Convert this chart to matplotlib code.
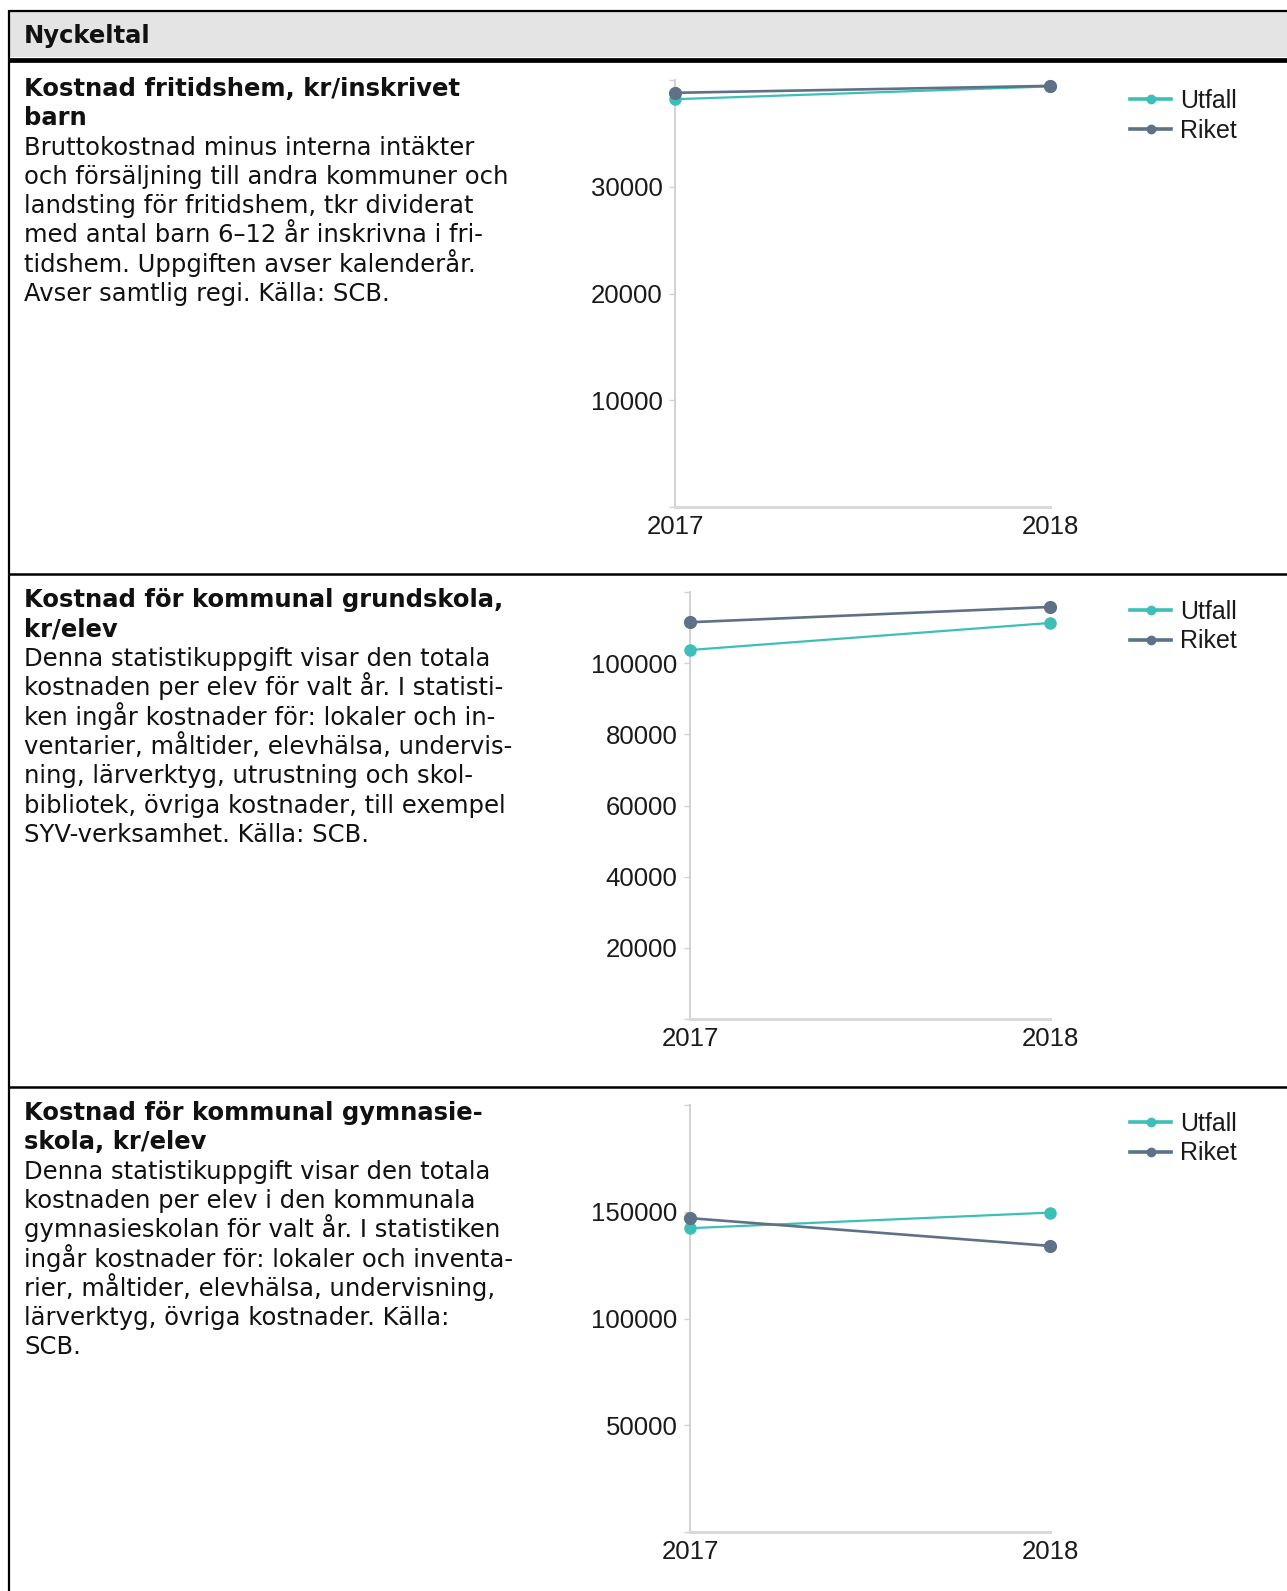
import numpy as np
import matplotlib
matplotlib.use("Agg")
import matplotlib.pyplot as plt
from matplotlib.patches import Rectangle
from matplotlib.lines import Line2D

# data
years = [2017, 2018]
series_names = ["Utfall", "Riket"]

fritids_utfall = [38200, 39400]
fritids_riket = [38800, 39450]
grund_utfall = [103700, 111300]
grund_riket = [111500, 115800]
gymn_utfall = [142300, 149600]
gymn_riket = [147000, 134000]

header = "Nyckeltal"

titles = [
    ["Kostnad fritidshem, kr/inskrivet", "barn"],
    ["Kostnad för kommunal grundskola,", "kr/elev"],
    ["Kostnad för kommunal gymnasie-", "skola, kr/elev"],
]

bodies = [
    ["Bruttokostnad minus interna intäkter",
     "och försäljning till andra kommuner och",
     "landsting för fritidshem, tkr dividerat",
     "med antal barn 6–12 år inskrivna i fri-",
     "tidshem. Uppgiften avser kalenderår.",
     "Avser samtlig regi. Källa: SCB."],
    ["Denna statistikuppgift visar den totala",
     "kostnaden per elev för valt år. I statisti-",
     "ken ingår kostnader för: lokaler och in-",
     "ventarier, måltider, elevhälsa, undervis-",
     "ning, lärverktyg, utrustning och skol-",
     "bibliotek, övriga kostnader, till exempel",
     "SYV-verksamhet. Källa: SCB."],
    ["Denna statistikuppgift visar den totala",
     "kostnaden per elev i den kommunala",
     "gymnasieskolan för valt år. I statistiken",
     "ingår kostnader för: lokaler och inventa-",
     "rier, måltider, elevhälsa, undervisning,",
     "lärverktyg, övriga kostnader. Källa:",
     "SCB."],
]

y_max = [40000, 120000, 200000]
y_step = [10000, 20000, 50000]

TEAL = "#3dbfb7"
SLATE = "#5e7186"
narrow = ["Liberation Sans Narrow", "Liberation Sans", "DejaVu Sans"]

W, H = 1287, 1591
fig = plt.figure(figsize=(W / 100, H / 100), dpi=100)
bg = fig.add_axes([0, 0, 1, 1])
bg.set_xlim(0, W)
bg.set_ylim(H, 0)
bg.axis("off")

# table frame
bg.add_patch(Rectangle((10, 12), W - 10, 45, color="#e4e4e4", lw=0))
bg.plot([9, W], [11, 11], color="black", lw=1.6, solid_capstyle="butt")
bg.plot([9, W], [59.5, 59.5], color="black", lw=3.4, solid_capstyle="butt")
bg.plot([9, 9], [10, H], color="black", lw=1.6, solid_capstyle="butt")
row_tops = [62, 575, 1088]
text_off = [34, 32.5, 32]
for yl in row_tops[1:]:
    bg.plot([9, W], [yl - 1, yl - 1], color="black", lw=1.8, solid_capstyle="butt")

bg.text(24, 43.5, header, fontsize=17.5, fontweight="bold", va="baseline",
        family="DejaVu Sans", color="#111111")

for i in range(3):
    y0 = row_tops[i] + text_off[i]
    for j, line in enumerate(titles[i]):
        bg.text(24, y0 + j * 29.3, line, fontsize=17.5, fontweight="bold",
                va="baseline", family="DejaVu Sans", color="#111111")
    y1 = y0 + len(titles[i]) * 29.3
    for j, line in enumerate(bodies[i]):
        bg.text(24, y1 + j * 29.3, line, fontsize=17.5, va="baseline",
                family="DejaVu Sans", color="#111111")

chart_rects = [(675, 80, 1050, 507), (690, 592, 1050, 1019), (690, 1105, 1050, 1532)]
chart_data = [(fritids_utfall, fritids_riket), (grund_utfall, grund_riket),
              (gymn_utfall, gymn_riket)]
legend_y = [89, 600, 1112]

for i in range(3):
    l, t, r, b = chart_rects[i]
    ax = fig.add_axes([l / W, 1 - b / H, (r - l) / W, (b - t) / H])
    ut, ri = chart_data[i]
    ax.plot(years, ut, color=TEAL, lw=1.6, marker="o", ms=8, clip_on=False, zorder=3)
    ax.plot(years, ri, color=SLATE, lw=1.9, marker="o", ms=8.5, clip_on=False, zorder=4)
    ax.set_xlim(2017, 2018)
    ax.set_ylim(0, y_max[i])
    ticks = np.arange(0, y_max[i] + 1, y_step[i])
    ax.set_yticks(ticks)
    ax.set_yticklabels(["" if v in (0, y_max[i]) else str(int(v)) for v in ticks])
    ax.set_xticks(years)
    ax.set_xticklabels([str(y) for y in years])
    for s in ["top", "right"]:
        ax.spines[s].set_visible(False)
    ax.spines["left"].set_color("#d2d2d2")
    ax.spines["left"].set_linewidth(1.4)
    ax.spines["bottom"].set_color("#d9d9d9")
    ax.spines["bottom"].set_linewidth(2.2)
    ax.tick_params(axis="y", length=4, width=1, color="#d2d2d2", pad=5,
                   labelsize=18.5, labelcolor="#1a1a1a")
    ax.tick_params(axis="x", length=0, pad=6, labelsize=18.5, labelcolor="#1a1a1a")
    for lab in ax.get_xticklabels() + ax.get_yticklabels():
        lab.set_family(narrow)
    ax.patch.set_alpha(0)

    handles = [Line2D([], [], color=TEAL, lw=2.6, marker="o", ms=6),
               Line2D([], [], color=SLATE, lw=2.6, marker="o", ms=6)]
    leg = ax.legend(handles, series_names, loc="upper left",
                    bbox_to_anchor=(1130 / W, 1 - legend_y[i] / H),
                    bbox_transform=fig.transFigure, frameon=False,
                    borderpad=0, borderaxespad=0, handlelength=1.65,
                    handletextpad=0.35, labelspacing=0.22,
                    prop={"family": narrow, "size": 18})
    for txt in leg.get_texts():
        txt.set_color("#1a1a1a")

fig.savefig("out.png", dpi=100)
